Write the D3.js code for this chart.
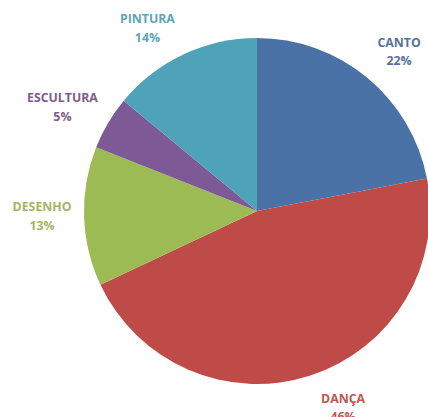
<!DOCTYPE html>
<html>
<head>
<meta charset="utf-8">
<script src="https://cdn.jsdelivr.net/npm/d3@7/dist/d3.min.js"></script>
<style>
  html, body { margin: 0; padding: 0; background: #ffffff; overflow: hidden; }
  svg { display: block; }
</style>
</head>
<body>
<svg id="chart" width="428" height="417"></svg>
<script>
// ---- data ----
const categories = ["CANTO", "DANÇA", "DESENHO", "ESCULTURA", "PINTURA"];
const values = [22, 46, 13, 5, 14];
const percentLabels = ["22%", "46%", "13%", "5%", "14%"];
const sliceColors = ["#4A72A6", "#BF4B48", "#9DBB55", "#7D5A96", "#4FA3B9"];
const textColors = ["#5671A0", "#C2554F", "#A3B662", "#7E5B8E", "#5BA6B8"];

// ---- layout ----
const W = 428, H = 417;
const cx = 257, cy = 211, R = 173;
const labelRadius = 214;
// angular nudge (degrees) applied to each label, Excel best-fit style
const labelNudge = {"CANTO": 2, "DANÇA": -5.7, "DESENHO": 0.7, "ESCULTURA": -2.3, "PINTURA": -5.6};
const labelRadiusAdj = {"ESCULTURA": 7, "DESENHO": 1};

const svg = d3.select("#chart");
const g = svg.append("g").attr("transform", `translate(${cx},${cy})`);

const data = categories.map((c, i) => ({cat: c, value: values[i], pct: percentLabels[i], color: sliceColors[i], tcolor: textColors[i]}));

const pie = d3.pie().value(d => d.value).sort(null).startAngle(0).endAngle(2 * Math.PI);
const arc = d3.arc().innerRadius(0).outerRadius(R);
const arcs = pie(data);

g.selectAll("path.slice")
  .data(arcs)
  .enter().append("path")
  .attr("class", "slice")
  .attr("d", arc)
  .attr("fill", d => d.data.color);

const lab = g.selectAll("g.label")
  .data(arcs)
  .enter().append("g")
  .attr("class", "label")
  .attr("transform", d => {
    const mid = (d.startAngle + d.endAngle) / 2 + (labelNudge[d.data.cat] || 0) * Math.PI / 180;
    const r = labelRadius + (labelRadiusAdj[d.data.cat] || 0);
    const x = Math.sin(mid) * r;
    const y = -Math.cos(mid) * r;
    return `translate(${x},${y})`;
  });

const fontSize = 12.3;
lab.append("text")
  .attr("text-anchor", "middle")
  .attr("y", -4)
  .attr("font-family", "'Open Sans', 'Noto Sans', sans-serif")
  .attr("font-weight", "bold")
  .attr("font-size", fontSize)
  .attr("fill", d => d.data.tcolor)
  .text(d => d.data.cat);

lab.append("text")
  .attr("text-anchor", "middle")
  .attr("y", 14.5)
  .attr("font-family", "'Open Sans', 'Noto Sans', sans-serif")
  .attr("font-weight", "bold")
  .attr("font-size", fontSize)
  .attr("fill", d => d.data.tcolor)
  .text(d => d.data.pct);
</script>
</body>
</html>
